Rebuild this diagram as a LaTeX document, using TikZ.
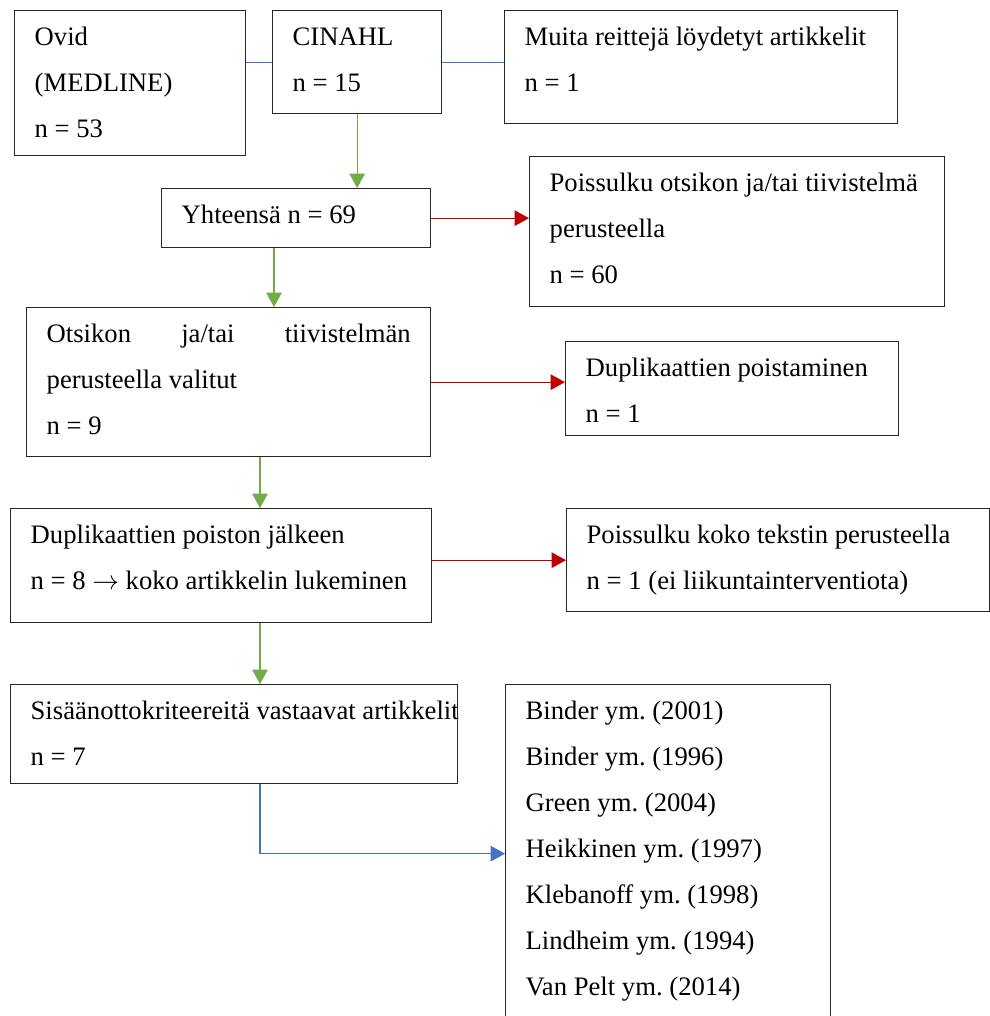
\documentclass[tikz,border=0pt]{standalone}
\usepackage{fontspec}
\setmainfont{Liberation Serif}
\usepackage{tikz}
\usetikzlibrary{arrows.meta}
\definecolor{srcblue}{RGB}{68,114,196}
\definecolor{keepgreen}{RGB}{112,173,71}
\definecolor{dropred}{RGB}{192,0,0}
\tikzset{
    entry/.style={rectangle, draw=black!85, line width=0.6pt, anchor=north west, align=flush left,
        inner xsep=9pt, inner ysep=0pt, text height=15.75pt,
        font=\fontsize{12}{20.7}\selectfont\frenchspacing},
    join line/.style={draw=srcblue, line width=0.6pt},
    raw arrow/.style={-{Triangle[length=6.5pt,width=7pt]}, line width=0.6pt},
    keep arrow/.style={raw arrow, draw=keepgreen},
    drop arrow/.style={raw arrow, draw=dropred},
    pick arrow/.style={raw arrow, draw=srcblue}
}
\begin{document}
\begin{tikzpicture}[x=0.45pt, y=-0.45pt]
    \useasboundingbox (0,0) rectangle (990,1016);
    % sources
    \node[entry, text width=85.95pt, text depth=49.5pt] (ovid) at (14,10) {Ovid\\(MEDLINE)\\n = 53};
    \node[entry, text width=58.05pt, text depth=30.6pt] (cinahl) at (272,10) {CINAHL\\n = 15};
    \node[entry, text width=158.85pt, text depth=35.1pt] (other) at (504,10) {Muita reittejä löydetyt artikkelit\\n = 1};
    % screening
    \node[entry, text width=103.05pt, text depth=10.8pt] (total) at (161,188) {Yhteensä n = 69};
    \node[entry, text width=168.75pt, text depth=51.75pt] (excl1) at (529,156) {Poissulku otsikon ja/tai tiivistelmä\\perusteella\\n = 60};
    \node[entry, text width=163.8pt, text depth=51.3pt] (screened) at (26,307) {Otsikon\hfill ja/tai\hfill tiivistelmän\\perusteella valitut\\n = 9};
    \node[entry, text width=131.85pt, text depth=26.55pt] (dupl) at (565,341) {Duplikaattien poistaminen\\n = 1};
    \node[entry, text width=171.45pt, text depth=35.55pt] (fulltext) at (10,508) {Duplikaattien poiston jälkeen\\\makebox[\linewidth][l]{n = 8 $\rightarrow$ koko artikkelin lukeminen}};
    \node[entry, text width=172.35pt, text depth=30.6pt] (excl2) at (566,508) {Poissulku koko tekstin perusteella\\n = 1 (ei liikuntainterventiota)};
    \node[entry, text width=183.15pt, text depth=28.8pt] (included) at (10,684) {\makebox[\linewidth][l]{Sisäänottokriteereitä vastaavat artikkelit}\\n = 7};
    \node[entry, text width=128.25pt, text depth=136.35pt] (studies) at (505,684) {Binder ym. (2001)\\Binder ym. (1996)\\Green ym. (2004)\\Heikkinen ym. (1997)\\Klebanoff ym. (1998)\\Lindheim ym. (1994)\\Van Pelt ym. (2014)};
    % connectors
    \draw[join line] (cinahl.west) -- (cinahl.west -| ovid.east);
    \draw[join line] (cinahl.east) -- (cinahl.east -| other.west);
    \draw[keep arrow] (cinahl.south) -- (cinahl.south |- total.north);
    \draw[drop arrow] (total.east) -- (total.east -| excl1.west);
    \draw[keep arrow] ([xshift=50.85pt]total.south west) coordinate (t1) -- (t1 |- screened.north);
    \draw[drop arrow] (screened.east) -- (screened.east -| dupl.west);
    \draw[keep arrow] ([xshift=105.3pt]screened.south west) coordinate (s1) -- (s1 |- fulltext.north);
    \draw[drop arrow] (excl2.west -| fulltext.east) -- (excl2.west);
    \draw[keep arrow] ([xshift=112.5pt]fulltext.south west) coordinate (f1) -- (f1 |- included.north);
    \draw[pick arrow] ([xshift=112.5pt]included.south west) coordinate (i1) |- (studies.west);
\end{tikzpicture}
\end{document}
